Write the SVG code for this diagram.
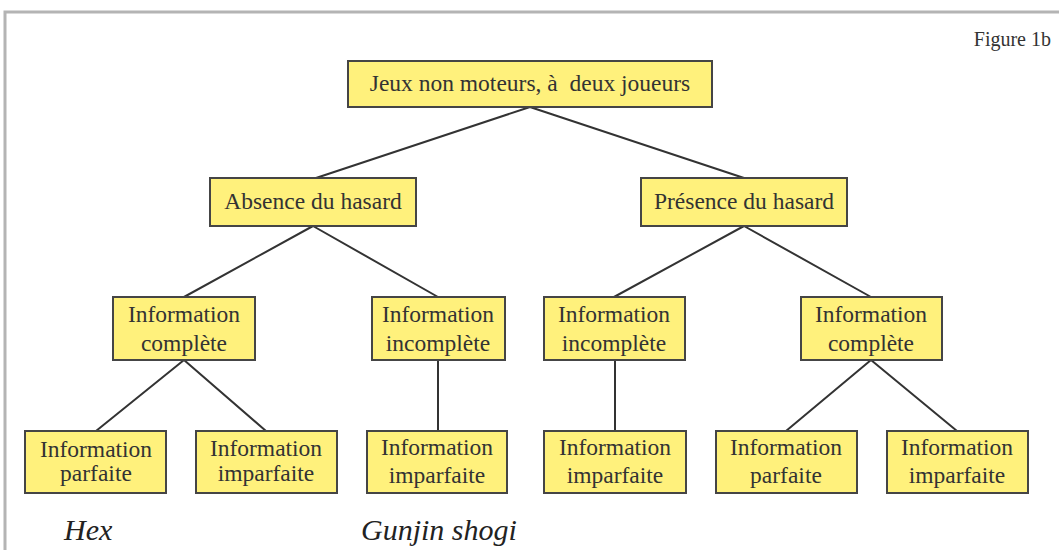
<svg xmlns="http://www.w3.org/2000/svg" width="1059" height="550" viewBox="0 0 1059 550">
  <style>
    .box { fill: #fff17c; stroke: #454545; stroke-width: 2; }
    .lbl { font-family: "Liberation Serif", "Times New Roman", serif; font-size: 23.5px; fill: #333; text-anchor: middle; white-space: pre; }
    .ex { font-family: "Liberation Serif", "Times New Roman", serif; font-size: 30px; font-style: italic; fill: #222; }
    .link { stroke: #333; stroke-width: 2; fill: none; }
  </style>
  <rect width="1059" height="550" fill="#ffffff"/>
  <!-- outer frame -->
  <path d="M5 550 V12 H1059" fill="none" stroke="#b4b4b4" stroke-width="3"/>
  <text x="1051" y="46" font-family="Liberation Serif, serif" font-size="20" fill="#333" text-anchor="end">Figure 1b</text>

  <g id="connectors" class="link">
    <path d="M530 107 L316 178 M530 107 L744 178"/>
    <path d="M313 226 L184 297 M313 226 L438 297"/>
    <path d="M744 226 L614 297 M744 226 L871 297"/>
    <path d="M184 360 L96 431 M184 360 L266 431"/>
    <path d="M438 360 L438 431"/>
    <path d="M615 360 L615 431"/>
    <path d="M871 360 L786 431 M871 360 L957 431"/>
  </g>

  <g id="root">
    <rect class="box" x="348" y="61" width="364" height="46"/>
    <text class="lbl" x="530" y="91" xml:space="preserve">Jeux non moteurs, à  deux joueurs</text>
  </g>
  <g id="absence">
    <rect class="box" x="210" y="178" width="206" height="48"/>
    <text class="lbl" x="313" y="209">Absence du hasard</text>
  </g>
  <g id="presence">
    <rect class="box" x="641" y="178" width="206" height="48"/>
    <text class="lbl" x="744" y="209">Présence du hasard</text>
  </g>
  <g id="complete-l">
    <rect class="box" x="113" y="297" width="142" height="63"/>
    <text class="lbl" x="184" y="322">Information</text>
    <text class="lbl" x="184" y="351">complète</text>
  </g>
  <g id="incomplete-l">
    <rect class="box" x="372" y="297" width="133" height="63"/>
    <text class="lbl" x="438" y="322">Information</text>
    <text class="lbl" x="438" y="351">incomplète</text>
  </g>
  <g id="incomplete-r">
    <rect class="box" x="544" y="297" width="141" height="63"/>
    <text class="lbl" x="614" y="322">Information</text>
    <text class="lbl" x="614" y="351">incomplète</text>
  </g>
  <g id="complete-r">
    <rect class="box" x="801" y="297" width="141" height="63"/>
    <text class="lbl" x="871" y="322">Information</text>
    <text class="lbl" x="871" y="351">complète</text>
  </g>
  <g id="parfaite-1">
    <rect class="box" x="25" y="431" width="141" height="62"/>
    <text class="lbl" x="96" y="457">Information</text>
    <text class="lbl" x="96" y="481">parfaite</text>
  </g>
  <g id="imparfaite-1">
    <rect class="box" x="196" y="431" width="141" height="62"/>
    <text class="lbl" x="266" y="456">Information</text>
    <text class="lbl" x="266" y="481">imparfaite</text>
  </g>
  <g id="imparfaite-2">
    <rect class="box" x="367" y="431" width="140" height="62"/>
    <text class="lbl" x="437" y="455">Information</text>
    <text class="lbl" x="437" y="483">imparfaite</text>
  </g>
  <g id="imparfaite-3">
    <rect class="box" x="544" y="431" width="142" height="62"/>
    <text class="lbl" x="615" y="455">Information</text>
    <text class="lbl" x="615" y="483">imparfaite</text>
  </g>
  <g id="parfaite-2">
    <rect class="box" x="716" y="431" width="141" height="62"/>
    <text class="lbl" x="786" y="455">Information</text>
    <text class="lbl" x="786" y="483">parfaite</text>
  </g>
  <g id="imparfaite-4">
    <rect class="box" x="887" y="431" width="141" height="62"/>
    <text class="lbl" x="957" y="455">Information</text>
    <text class="lbl" x="957" y="483">imparfaite</text>
  </g>

  <text class="ex" x="64" y="540">Hex</text>
  <text class="ex" x="361" y="540">Gunjin shogi</text>
</svg>
